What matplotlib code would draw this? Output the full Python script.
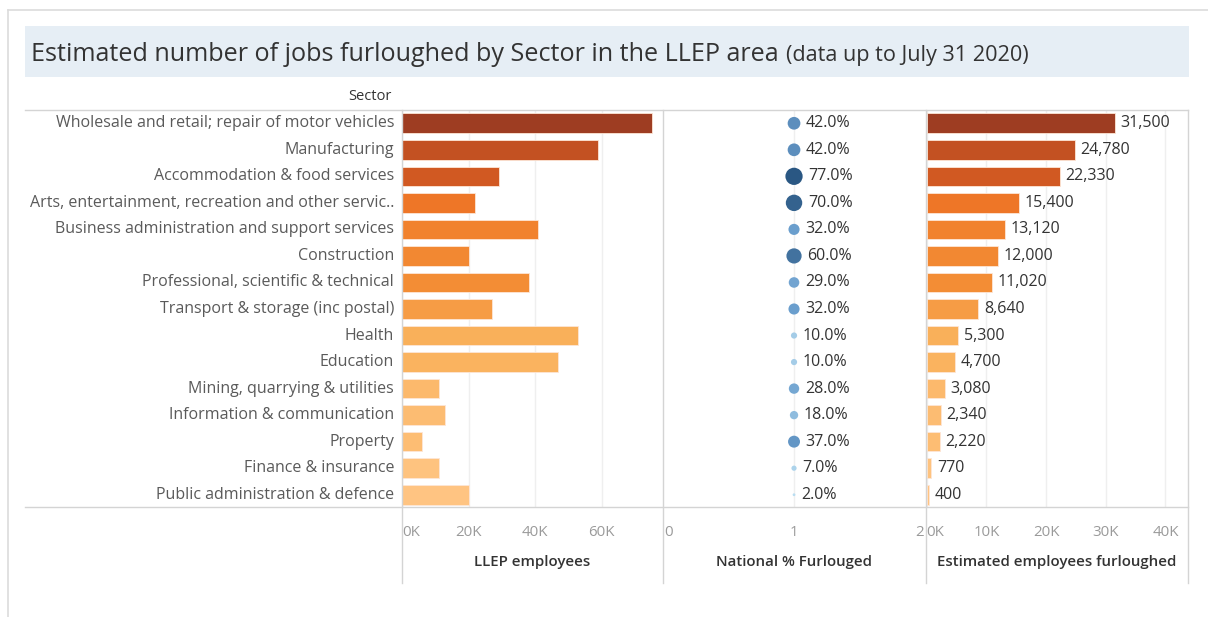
import numpy as np
import matplotlib
matplotlib.use("Agg")
import matplotlib.pyplot as plt
from matplotlib.colors import LinearSegmentedColormap, Normalize
from matplotlib.lines import Line2D
from matplotlib.patches import Rectangle

plt.rcParams['font.family'] = ['Open Sans', 'DejaVu Sans']

# data
sectors = [
    "Wholesale and retail; repair of motor vehicles",
    "Manufacturing",
    "Accommodation & food services",
    "Arts, entertainment, recreation and other servic..",
    "Business administration and support services",
    "Construction",
    "Professional, scientific & technical",
    "Transport & storage (inc postal)",
    "Health",
    "Education",
    "Mining, quarrying & utilities",
    "Information & communication",
    "Property",
    "Finance & insurance",
    "Public administration & defence",
]
llep_employees = [75000, 59000, 29000, 22000, 41000, 20000, 38000, 27000,
                  53000, 47000, 11000, 13000, 6000, 11000, 20000]
national_pct = [42, 42, 77, 70, 32, 60, 29, 32, 10, 10, 28, 18, 37, 7, 2]
furloughed = [31500, 24780, 22330, 15400, 13120, 12000, 11020, 8640,
              5300, 4700, 3080, 2340, 2220, 770, 400]

W, H = 1208, 617
fig = plt.figure(figsize=(W / 100, H / 100), dpi=100)


def px_axes(x0, y0, x1, y1):
    return fig.add_axes([x0 / W, 1 - y1 / H, (x1 - x0) / W, (y1 - y0) / H])


def px_line(x0, y0, x1, y1, color="#d4d4d4", lw=1.0):
    fig.add_artist(Line2D([x0 / W, x1 / W], [1 - y0 / H, 1 - y1 / H],
                          transform=fig.transFigure, color=color, lw=lw))


# outer frame of the screenshot
px_line(8, 10, W, 10, color="#dcdcdc", lw=1.2)
px_line(8, 10, 8, H, color="#dcdcdc", lw=1.2)

# title band
fig.add_artist(Rectangle((25 / W, 1 - 77 / H), (1189 - 25) / W, 51 / H,
                         transform=fig.transFigure, facecolor="#e6eef5",
                         edgecolor="none"))
title = fig.text(31 / W, 1 - 61 / H,
                 "Estimated number of jobs furloughed by Sector in the LLEP area",
                 fontsize=18.1, color="#333333", va="baseline", ha="left")
fig.canvas.draw()
bb = title.get_window_extent()
fig.text((bb.x1 + 7) / W, 1 - 61 / H, "(data up to July 31 2020)",
         fontsize=15.6, color="#333333", va="baseline", ha="left")

fig.text(370 / W, 1 - 97 / H, "Sector", fontsize=10.5, color="#333333",
         ha="center", va="center")

top, bottom = 110, 508
n = len(sectors)
y = np.arange(n)

orange = LinearSegmentedColormap.from_list(
    "orng", [(0, "#ffc685"), (0.17, "#f9b05a"), (0.35, "#f38d35"),
             (0.5, "#ee7426"), (0.7, "#d35a22"), (1, "#9e3d22")])
blue = LinearSegmentedColormap.from_list(
    "blu", [(0, "#b9ddf1"), (0.4, "#6a9ecd"), (1, "#2a5783")])
bar_colors = orange(Normalize(0, max(furloughed))(furloughed))
dot_colors = blue(Normalize(2, 77)(national_pct))

ax1 = px_axes(402, top, 663, bottom)
ax2 = px_axes(663, top, 926, bottom)
ax3 = px_axes(926.7, top, 1188, bottom)

for ax in (ax1, ax2, ax3):
    ax.set_ylim(n - 0.5, -0.5)
    ax.set_yticks([])
    for s in ax.spines.values():
        s.set_visible(False)
    ax.tick_params(axis="x", length=0, pad=12, labelsize=10.8,
                   labelcolor="#9a9a9a")
    ax.grid(axis="x", color="#efefef", lw=1)
    ax.set_axisbelow(True)

# LLEP employees
ax1.barh(y, llep_employees, height=0.74, color=bar_colors,
         edgecolor="#fde6d6", lw=0.6)
ax1.set_xlim(0, 78400)
ax1.set_xticks([0, 20000, 40000, 60000])
ax1.set_xticklabels(["0K", "20K", "40K", "60K"])
ax1.get_xticklabels()[0].set_ha("left")
for i, lab in enumerate(sectors):
    ax1.text(-8 / 3.33 * 1000, i, lab, ha="right", va="center",
             fontsize=11.5, color="#5a5a5a")

# National % furloughed
sizes = [2.0 * v for v in national_pct]
ax2.scatter(np.ones(n), y, s=sizes, c=dot_colors, zorder=3, lw=0)
for i, v in enumerate(national_pct):
    r = np.sqrt(sizes[i]) / 2
    ax2.annotate(f"{v:.1f}%", (1, i), xytext=(r + 4.0, 0),
                 textcoords="offset points", va="center", ha="left",
                 fontsize=11.5, color="#333333")
ax2.set_xlim(-0.0077, 2.015)
ax2.set_xticks([0, 1, 2])
ax2.set_xticklabels(["0", "1", "2"])
ax2.get_xticklabels()[0].set_ha("left")
ax2.get_xticklabels()[2].set_ha("right")
ax2.grid(False)
ax2.axvline(1, color="#efefef", lw=1, zorder=0)

# Estimated employees furloughed
ax3.barh(y, furloughed, height=0.74, color=bar_colors,
         edgecolor="#fde6d6", lw=0.6)
for i, v in enumerate(furloughed):
    ax3.annotate(f"{v:,}", (v, i), xytext=(4, 0), textcoords="offset points",
                 va="center", ha="left", fontsize=11.5, color="#333333")
ax3.set_xlim(0, 43780)
ax3.set_xticks([0, 10000, 20000, 30000, 40000])
ax3.set_xticklabels(["0K", "10K", "20K", "30K", "40K"])
ax3.get_xticklabels()[0].set_ha("left")

# axis titles
for cx, txt in [(532, "LLEP employees"), (794, "National % Furlouged"),
                (1057, "Estimated employees furloughed")]:
    fig.text(cx / W, 1 - 562 / H, txt, ha="center", va="center",
             fontsize=10.8, color="#333333", fontweight="semibold")

# table rules
px_line(25, top, 1188, top)
px_line(25, bottom - 1, 1188, bottom - 1)
for xv in (402, 663, 926, 1188):
    px_line(xv, top, xv, 583)

fig.savefig("out.png", dpi=100)
